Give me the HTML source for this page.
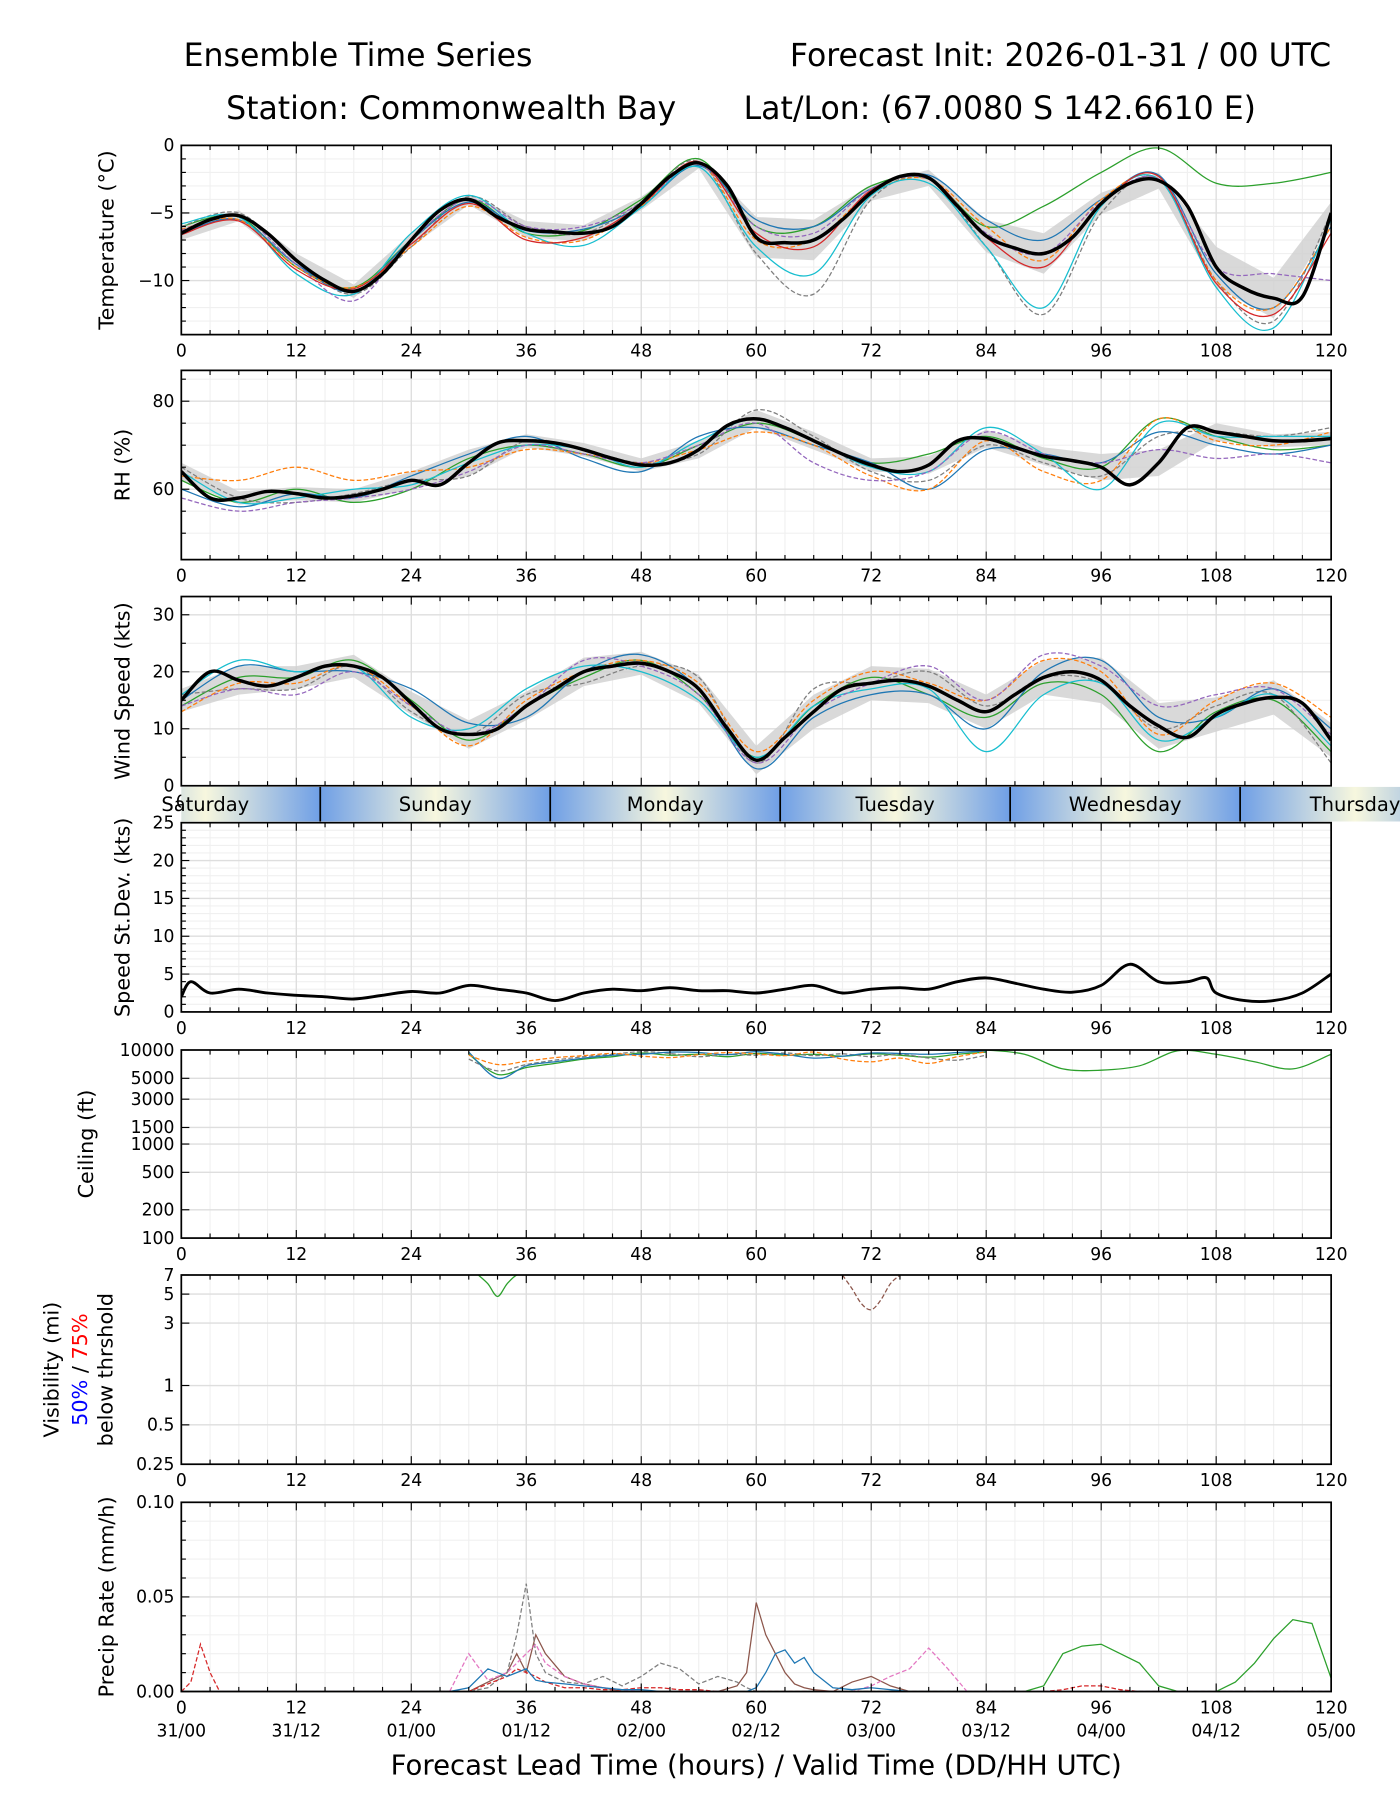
<!DOCTYPE html>
<html><head><meta charset="utf-8"><style>
html,body{margin:0;padding:0;background:#fff;}
svg{display:block;font-family:"DejaVu Sans","Liberation Sans",sans-serif;}
</style></head><body>
<svg id="chart" xmlns="http://www.w3.org/2000/svg" width="1400" height="1800" viewBox="0 0 1220 1560" preserveAspectRatio="none">
<defs>
<linearGradient id="dayGrad" x1="0" x2="1" y1="0" y2="0">
<stop offset="0" stop-color="#6f9fe6"/><stop offset="0.5" stop-color="#f7f7de"/><stop offset="1" stop-color="#6f9fe6"/>
</linearGradient>
</defs>
<g font-size="27.5" fill="#000">
<text x="160" y="57">Ensemble Time Series</text>
<text x="1160" y="57" text-anchor="end">Forecast Init: 2026-01-31 / 00 UTC</text>
<text x="197" y="103">Station: Commonwealth Bay</text>
<text x="648" y="103">Lat/Lon: (67.0080 S 142.6610 E)</text>
</g>
<g id="plots"></g>
</svg>
<script>
// ---------- data ----------
const hours3 = [0,3,6,9,12,15,18,21,24,27,30,33,36,39,42,45,48,51,54,57,60,63,66,69,72,75,78,81,84,87,90,93,96,99,102,105,108,111,114,117,120];
const hours6 = [0,6,12,18,24,30,36,42,48,54,60,66,72,78,84,90,96,102,108,114,120];
const tempMean = [-6.5,-5.5,-5.2,-6.5,-8.5,-10,-10.8,-9.5,-7,-4.8,-4,-5.3,-6.2,-6.4,-6.5,-6,-4.3,-2.3,-1.3,-3,-6.8,-7.2,-7,-5.5,-3.5,-2.3,-2.4,-4.5,-6.7,-7.6,-8,-6.8,-4.3,-2.8,-2.6,-4.5,-9,-10.6,-11.3,-11.2,-5];
const tempSpread = [0.5,0.4,0.5,0.5,0.5,0.4,0.6,0.6,0.5,0.4,1.5,1.5,0.6,0.6,1.2,1.5,0.8,0.6,1.5,1.5,0.8];
const tempMembers = [
 [-6,-5.3,-9,-10.5,-7,-4,-6.5,-6.3,-4,-1,-6,-6,-3,-2.5,-6,-4.5,-2,-0.2,-2.8,-2.8,-2],
 [-6,-5,-8.5,-11,-7.5,-3.8,-6,-6.5,-4.2,-1.2,-8,-11,-4,-2.5,-7.5,-12.5,-5,-2.5,-10,-13,-5],
 [-6.5,-5.5,-8.8,-10.8,-7,-4.2,-6.3,-6.2,-4.5,-1.5,-5.5,-6,-3.2,-2.2,-5.5,-7,-4,-2.2,-9.5,-12,-6],
 [-6.2,-5.5,-9,-10.5,-7.5,-4.5,-6.8,-7,-4.5,-1.3,-7,-7,-3.5,-2.5,-6,-8.5,-4,-2.5,-10,-12,-6],
 [-5.8,-5.3,-9.5,-11,-6.5,-3.7,-6.5,-7.4,-4.6,-1.6,-7.5,-9.5,-3.7,-2.8,-7.5,-12,-4.5,-2.5,-10.5,-13.5,-5.5],
 [-6.3,-5.2,-8.8,-11.5,-7,-4,-6,-6,-4.3,-1.4,-6,-6.5,-3.2,-2.5,-6.5,-8,-4.2,-2.5,-9,-9.5,-10],
 [-6.6,-5.6,-9.2,-10.6,-7.3,-4.3,-7,-6.8,-4.4,-1.2,-6.5,-7.5,-3.3,-2.4,-6.8,-9,-4.3,-2.3,-10.2,-12.5,-6.5]
];
const rhMean = [64,58,58,59.5,59,58,58.5,60,62,61,66,70.5,71,70.5,69,67,65.5,66,69,74.5,76,74,71,68,65.5,64,65.5,71,71.5,69.5,67.5,66.5,65,61,66,74,73,72,71,71,71.5];
const rhSpread = [2,1.5,1.5,1.5,2,3,1.5,1.5,1.5,2,2,2,1.5,2,2,2,3,3,2,1.5,1.5];
const rhMembers = [
 [62,57,60,57,60,67,70,68,65,70,75,71,66,68,72,67,65,76,72,69,70],
 [65,58,57,59,62,63,71,69,66,68,78,72,64,62,70,66,63,72,73,72,74],
 [60,56,59,58,63,68,72,67,64,72,74,70,66,60,69,68,66,73,70,68,70],
 [63,62,65,62,64,65,69,68,66,69,73,70,63,60,71,64,62,76,71,70,73],
 [64,57,58,60,61,66,70,69,65,71,76,71,65,64,74,68,60,75,72,72,72],
 [58,55,57,58,60,64,70,68,66,70,75,66,62,64,73,68,66,69,67,68,66]
];
const windMean = [15,20,18.5,17.5,19,21,21,19,14.5,10,9,10,14,17,20,21,21.5,20,17,10,4.5,8.5,13,17,18,18.5,17.5,15,13,16,19,20,18.5,14,10.5,8.5,12.5,14.5,15.5,14.5,8];
const windSpread = [2,2.5,2,2,2,2.5,2.5,2.5,2,2.5,2.5,3,3,3,3,3,4,4,3,3,3];
const windMembers = [
 [14,19,19,22,15,8,14,19,22,16,5,14,19,16,12,18,16,6,13,15,6],
 [16,17,17,21,13,9,16,18,21,19,4,17,18,20,14,19,18,10,14,16,4],
 [15,21,20,20,17,11,12,20,23,17,3,12,16,16,10,20,22,12,12,17,10],
 [13,18,18,21,14,7,15,20,22,18,6,15,20,18,15,22,20,9,15,18,12],
 [16,22,20,21,12,10,17,21,20,15,5,14,17,17,6,16,18,8,12,16,7],
 [14,17,16,20,14,9,14,22,21,16,4,13,18,21,15,23,21,14,16,17,9]
];
const sdHours = [0,1,3,6,9,12,15,18,21,24,27,30,33,36,39,42,45,48,51,54,57,60,63,66,69,72,75,78,81,84,87,90,93,96,99,102,105,107,108,111,114,117,120];
const sdValues = [2,4,2.5,3,2.5,2.2,2,1.7,2.2,2.7,2.5,3.5,3,2.5,1.5,2.5,3,2.8,3.2,2.8,2.8,2.5,3,3.5,2.5,3,3.2,3,4,4.5,3.8,3,2.6,3.5,6.3,4,4,4.5,2.5,1.5,1.5,2.5,5];
const ceilHours = [30,33,36,39,42,45,48,51,54,57,60,63,66,69,72,75,78,81,84];
const ceilMembers = [
 [9000,5500,6500,7200,8000,8500,9300,8800,9000,8500,9200,8800,9000,8600,9100,8800,8400,9000,9500],
 [8000,6000,7000,7800,8500,9000,9600,9200,8500,9000,8800,9300,8700,9100,8500,9000,8200,7800,8800],
 [9500,5000,6800,7500,8200,8800,9000,9500,9400,8900,9600,9000,8200,8600,9300,9200,9000,9400,9800],
 [8800,7000,7600,8300,8700,9200,8600,8300,8900,9400,9100,8700,9500,8000,7500,8200,7200,8500,9600]
];
const ceilGreenHours = [84,88,92,96,100,104,108,112,116,120];
const ceilGreen = [10000,9000,6300,6100,6800,9800,9000,7500,6300,9000];
const visHours = [31,32,33,34,35,36];
const visValues = [7,6,4.8,6,7,7];
const visBrownHours = [69,70,71,72,73,74,75];
const visBrownValues = [7,5.5,4.2,3.8,4.5,6,7];
const precipHours = [0,1,2,3,4,6,12,24,28,30,32,34,35,36,37,38,40,42,44,46,48,50,52,54,56,58,59,60,61,62,63,64,65,66,68,70,72,74,76,78,80,82,84,88,90,92,94,96,98,100,102,104,108,110,112,114,116,118,120];
const precipGreen = [0,0,0,0,0,0,0,0,0,0,0,0,0,0,0,0,0,0,0,0,0,0,0,0,0,0,0,0,0,0,0,0,0,0,0,0,0,0,0,0,0,0,0,0,0.003,0.02,0.024,0.025,0.02,0.015,0.003,0,0,0.005,0.015,0.028,0.038,0.036,0.007];
const precipBrown = [0,0,0,0,0,0,0,0,0,0,0.005,0.01,0.02,0.01,0.03,0.02,0.008,0.004,0.002,0,0,0,0,0,0,0.003,0.01,0.047,0.03,0.02,0.01,0.004,0.002,0.001,0,0.005,0.008,0.003,0,0,0,0,0,0,0,0,0,0,0,0,0,0,0,0,0,0,0,0,0];
const precipGray = [0,0,0,0,0,0,0,0,0,0,0.002,0.01,0.03,0.057,0.02,0.01,0.005,0.004,0.008,0.003,0.008,0.015,0.012,0.004,0.008,0.005,0.002,0,0,0,0,0,0,0,0,0,0,0,0,0,0,0,0,0,0,0,0,0,0,0,0,0,0,0,0,0,0,0,0];
const precipRed = [0,0.005,0.025,0.01,0,0,0,0,0,0,0.004,0.008,0.012,0.01,0.008,0.005,0.002,0.002,0.001,0.001,0.002,0.002,0.001,0.001,0,0,0,0,0,0,0,0,0,0,0,0,0,0,0,0,0,0,0,0,0,0.001,0.003,0.003,0.001,0,0,0,0,0,0,0,0,0,0];
const precipPink = [0,0,0,0,0,0,0,0,0,0.02,0.006,0.01,0.015,0.02,0.025,0.015,0.008,0.004,0.002,0.001,0,0,0,0,0,0,0,0,0,0,0,0,0,0,0,0,0.003,0.008,0.012,0.023,0.012,0,0,0,0,0,0,0,0,0,0,0,0,0,0,0,0,0,0];
const precipBlue = [0,0,0,0,0,0,0,0,0,0.002,0.012,0.008,0.01,0.012,0.006,0.005,0.004,0.003,0.002,0.001,0.001,0,0,0,0,0,0,0.002,0.01,0.02,0.022,0.015,0.018,0.01,0.002,0.001,0.002,0.001,0,0,0,0,0,0,0,0,0,0,0,0,0,0,0,0,0,0,0,0,0];
const xTickLabels = ['0','12','24','36','48','60','72','84','96','108','120'];
const dateLabels = ['31/00','31/12','01/00','01/12','02/00','02/12','03/00','03/12','04/00','04/12','05/00'];
const dayNames = ['Saturday','Sunday','Monday','Tuesday','Wednesday','Thursday'];
const dayStartHours = [-9.5,14.5,38.5,62.5,86.5,110.5];

// ---------- helpers ----------
const NS = 'http://www.w3.org/2000/svg';
const root = document.getElementById('plots');
const X0 = 158, X1 = 1160;
const xs = h => X0 + (h / 120) * (X1 - X0);
function mk(tag, attrs, parent) {
  const e = document.createElementNS(NS, tag);
  for (const k in attrs) e.setAttribute(k, attrs[k]);
  (parent || root).appendChild(e);
  return e;
}
function linScale(v0, v1, top, bot) { return v => bot - (v - v0) / (v1 - v0) * (bot - top); }
function logScale(v0, v1, top, bot) { return v => bot - (Math.log(v) - Math.log(v0)) / (Math.log(v1) - Math.log(v0)) * (bot - top); }
function pathD(hs, vs, ys) { return hs.map((h, i) => (i ? 'L' : 'M') + xs(h).toFixed(1) + ',' + ys(vs[i]).toFixed(1)).join(''); }
function smoothD(hs, vs, ys) {
  const p = hs.map((h, i) => [xs(h), ys(vs[i])]);
  let d = 'M' + p[0][0].toFixed(1) + ',' + p[0][1].toFixed(1);
  for (let i = 0; i < p.length - 1; i++) {
    const p0 = p[Math.max(0, i - 1)], p1 = p[i], p2 = p[i + 1], p3 = p[Math.min(p.length - 1, i + 2)];
    const c1 = [p1[0] + (p2[0] - p0[0]) / 6, p1[1] + (p2[1] - p0[1]) / 6];
    const c2 = [p2[0] - (p3[0] - p1[0]) / 6, p2[1] - (p3[1] - p1[1]) / 6];
    d += 'C' + c1[0].toFixed(1) + ',' + c1[1].toFixed(1) + ' ' + c2[0].toFixed(1) + ',' + c2[1].toFixed(1) + ' ' + p2[0].toFixed(1) + ',' + p2[1].toFixed(1);
  }
  return d;
}
const colors = ['#2ca02c','#7f7f7f','#1f77b4','#ff7f0e','#17becf','#9467bd','#d62728','#8c564b','#e377c2','#bcbd22'];

function panel(name, top, bot, ys, yTicks, yMinor, label, labelX) {
  const g = mk('g', {});
  
  
  const cp = mk('clipPath', {id: 'clip-' + name}, g);
  mk('rect', {x: X0, y: top, width: X1 - X0, height: bot - top}, cp);
  for (let h = 3; h < 120; h += 3) if (h % 12) mk('line', {x1: xs(h), x2: xs(h), y1: top, y2: bot, stroke: '#f0f0f0', 'stroke-width': 1}, g);
  yMinor.forEach(v => mk('line', {x1: X0, x2: X1, y1: ys(v), y2: ys(v), stroke: '#f0f0f0', 'stroke-width': 1}, g));
  for (let h = 12; h < 120; h += 12) mk('line', {x1: xs(h), x2: xs(h), y1: top, y2: bot, stroke: '#dedede', 'stroke-width': 1.2}, g);
  yTicks.forEach(t => mk('line', {x1: X0, x2: X1, y1: ys(t[0]), y2: ys(t[0]), stroke: '#dedede', 'stroke-width': 1.2}, g));
  const data = mk('g', {'clip-path': 'url(#clip-' + name + ')'}, g);
  for (let h = 0; h <= 120; h += 3) {
    const L = h % 12 ? 4 : 7;
    mk('line', {x1: xs(h), x2: xs(h), y1: bot, y2: bot - L, stroke: '#000', 'stroke-width': 1}, g);
    mk('line', {x1: xs(h), x2: xs(h), y1: top, y2: top + L, stroke: '#000', 'stroke-width': 1}, g);
  }
  yMinor.forEach(v => mk('line', {x1: X0, x2: X0 + 4, y1: ys(v), y2: ys(v), stroke: '#000'}, g));
  yTicks.forEach(t => {
    mk('line', {x1: X0, x2: X0 + 7, y1: ys(t[0]), y2: ys(t[0]), stroke: '#000'}, g);
    const tx = mk('text', {x: X0 - 6, y: ys(t[0]) + 5, 'text-anchor': 'end', 'font-size': 15}, g);
    tx.textContent = t[1];
    
    
  });
  xTickLabels.forEach((l, i) => {
    const tx = mk('text', {x: xs(i * 12), y: bot + 19, 'text-anchor': 'middle', 'font-size': 15}, g);
    tx.textContent = l;
    
    
  });
  if (label) {
    const lab = mk('text', {transform: 'translate(' + labelX + ',' + ((top + bot) / 2) + ') rotate(-90)', 'text-anchor': 'middle', 'font-size': 18}, g);
    lab.textContent = label;
    
    
  }
  g._frame = () => mk('rect', {x: X0, y: top, width: X1 - X0, height: bot - top, fill: 'none', stroke: '#000', 'stroke-width': 1.5}, g);
  return {g, data};
}
function interp(hs, vs, h) {
  for (let i = 1; i < hs.length; i++) if (h <= hs[i]) { const t = (h - hs[i - 1]) / (hs[i] - hs[i - 1]); return vs[i - 1] + t * (vs[i] - vs[i - 1]); }
  return vs[vs.length - 1];
}
function band(parent, hs, mean, spread, ys, name) {
  const up = hs.map((h, i) => xs(h).toFixed(1) + ',' + ys(interp(hours3, mean, h) + spread[i]).toFixed(1));
  const dn = hs.map((h, i) => xs(h).toFixed(1) + ',' + ys(interp(hours3, mean, h) - spread[i]).toFixed(1)).reverse();
  const p = mk('polygon', {points: up.concat(dn).join(' '), fill: '#d0d0d0', opacity: 0.8}, parent);
  
  
}
function members(parent, hs, arr, ys, name) {
  arr.forEach((vs, i) => {
    const p = mk('path', {d: smoothD(hs, vs, ys), fill: 'none', stroke: colors[i % colors.length], 'stroke-width': 1.1, 'stroke-dasharray': i % 2 ? '4,2' : 'none'}, parent);
    
    
  });
}
function meanLine(parent, hs, vs, ys, name, w) {
  const p = mk('path', {d: smoothD(hs, vs, ys), fill: 'none', stroke: '#000', 'stroke-width': w || 3, 'stroke-linejoin': 'round'}, parent);
  
  
}

// ---------- Temperature ----------
let ys = linScale(-14, 0, 126, 290);
let P = panel('temperature', 126, 290, ys, [[0,'0'],[-5,'−5'],[-10,'−10']], [-1,-2,-3,-4,-6,-7,-8,-9,-11,-12,-13], 'Temperature (°C)', 99);
band(P.data, hours6, tempMean, tempSpread, ys, 'temperature');
members(P.data, hours6, tempMembers, ys, 'temperature');
meanLine(P.data, hours3, tempMean, ys, 'temperature');
P.g._frame();

// ---------- RH ----------
ys = linScale(44, 87, 321, 485);
P = panel('rh', 321, 485, ys, [[80,'80'],[60,'60']], [50,55,65,70,75,85], 'RH (%)', 113);
band(P.data, hours6, rhMean, rhSpread, ys, 'rh');
members(P.data, hours6, rhMembers, ys, 'rh');
meanLine(P.data, hours3, rhMean, ys, 'rh');
P.g._frame();

// ---------- Wind ----------
ys = linScale(0, 33.2, 517, 681);
P = panel('wind', 517, 681, ys, [[30,'30'],[20,'20'],[10,'10'],[0,'0']], [5,15,25], 'Wind Speed (kts)', 113);
band(P.data, hours6, windMean, windSpread, ys, 'wind');
members(P.data, hours6, windMembers, ys, 'wind');
meanLine(P.data, hours3, windMean, ys, 'wind');
P.g._frame();

// ---------- Day bar ----------
const dayG = mk('g', {});


const dcp = mk('clipPath', {id: 'clip-day'}, dayG);
mk('rect', {x: X0, y: 681, width: 1220 - X0, height: 31}, dcp);
const dayInner = mk('g', {'clip-path': 'url(#clip-day)'}, dayG);
dayStartHours.forEach((h, i) => {
  const x = xs(h), w = xs(h + 24) - x;
  mk('rect', {x: x, y: 682, width: w, height: 30, fill: 'url(#dayGrad)'}, dayInner);
  if (i > 0) mk('line', {x1: x, x2: x, y1: 682, y2: 712, stroke: '#000', 'stroke-width': 1.5}, dayG);
});
dayStartHours.forEach((h, i) => {
  const t = mk('text', {x: xs(h + 12), y: 703, 'text-anchor': 'middle', 'font-size': 17}, dayG);
  t.textContent = dayNames[i];
  
  
});

// ---------- Speed std dev ----------
ys = linScale(0, 25, 713, 877);
P = panel('speed-stdev', 713, 877, ys, [[25,'25'],[20,'20'],[15,'15'],[10,'10'],[5,'5'],[0,'0']], [1,2,3,4,6,7,8,9,11,12,13,14,16,17,18,19,21,22,23,24], 'Speed St.Dev. (kts)', 113);
meanLine(P.data, sdHours, sdValues, ys, 'speed-stdev', 2.5);
P.g._frame();

// ---------- Ceiling ----------
ys = logScale(100, 10000, 910, 1073);
P = panel('ceiling', 910, 1073, ys, [[10000,'10000'],[5000,'5000'],[3000,'3000'],[1500,'1500'],[1000,'1000'],[500,'500'],[200,'200'],[100,'100']], [], 'Ceiling (ft)', 81);
members(P.data, ceilHours, ceilMembers, ys, 'ceiling');
(function(){ const p = mk('path', {d: smoothD(ceilGreenHours, ceilGreen, ys), fill: 'none', stroke: '#2ca02c', 'stroke-width': 1.1}, P.data);

 })();
P.g._frame();

// ---------- Visibility ----------
ys = logScale(0.25, 7, 1105, 1269);
P = panel('visibility', 1105, 1269, ys, [[7,'7'],[5,'5'],[3,'3'],[1,'1'],[0.5,'0.5'],[0.25,'0.25']], [], null, 0);
members(P.data, visHours, [visValues], ys, 'visibility');
(function(){ const p = mk('path', {d: smoothD(visBrownHours, visBrownValues, ys), fill: 'none', stroke: '#8c564b', 'stroke-width': 1.1, 'stroke-dasharray': '4,2'}, P.data);

 })();
P.g._frame();
(function(){
  const mid = 1187;
  const t1 = mk('text', {transform: 'translate(51,' + mid + ') rotate(-90)', 'text-anchor': 'middle', 'font-size': 18});
  t1.textContent = 'Visibility (mi)';
  
  
  const t2 = mk('text', {transform: 'translate(76,' + mid + ') rotate(-90)', 'text-anchor': 'middle', 'font-size': 18});
  t2.innerHTML = '<tspan fill="#0000ff">50%</tspan> / <tspan fill="#ff0000">75%</tspan>';
  
  
  const t3 = mk('text', {transform: 'translate(98,' + mid + ') rotate(-90)', 'text-anchor': 'middle', 'font-size': 18});
  t3.textContent = 'below thrshold';
  
  
})();

// ---------- Precip ----------
ys = linScale(0, 0.1, 1302, 1466);
P = panel('precip', 1302, 1466, ys, [[0.1,'0.10'],[0.05,'0.05'],[0,'0.00']], [0.01,0.02,0.03,0.04,0.06,0.07,0.08,0.09], 'Precip Rate (mm/h)', 99);
[[precipGreen,'#2ca02c','none'],[precipBrown,'#8c564b','none'],[precipGray,'#7f7f7f','4,2'],[precipRed,'#d62728','4,2'],[precipPink,'#e377c2','4,2'],[precipBlue,'#1f77b4','none']].forEach(s => {
  const p = mk('path', {d: pathD(precipHours, s[0], ys), fill: 'none', stroke: s[1], 'stroke-width': 1.1, 'stroke-dasharray': s[2]}, P.data);
  
  
});
P.g._frame();
dateLabels.forEach((l, i) => {
  const t = mk('text', {x: xs(i * 12), y: 1505, 'text-anchor': 'middle', 'font-size': 15});
  t.textContent = l;
  
  
});
const xl = mk('text', {x: 659, y: 1538, 'text-anchor': 'middle', 'font-size': 24});
xl.textContent = 'Forecast Lead Time (hours) / Valid Time (DD/HH UTC)';


</script>
</body></html>
